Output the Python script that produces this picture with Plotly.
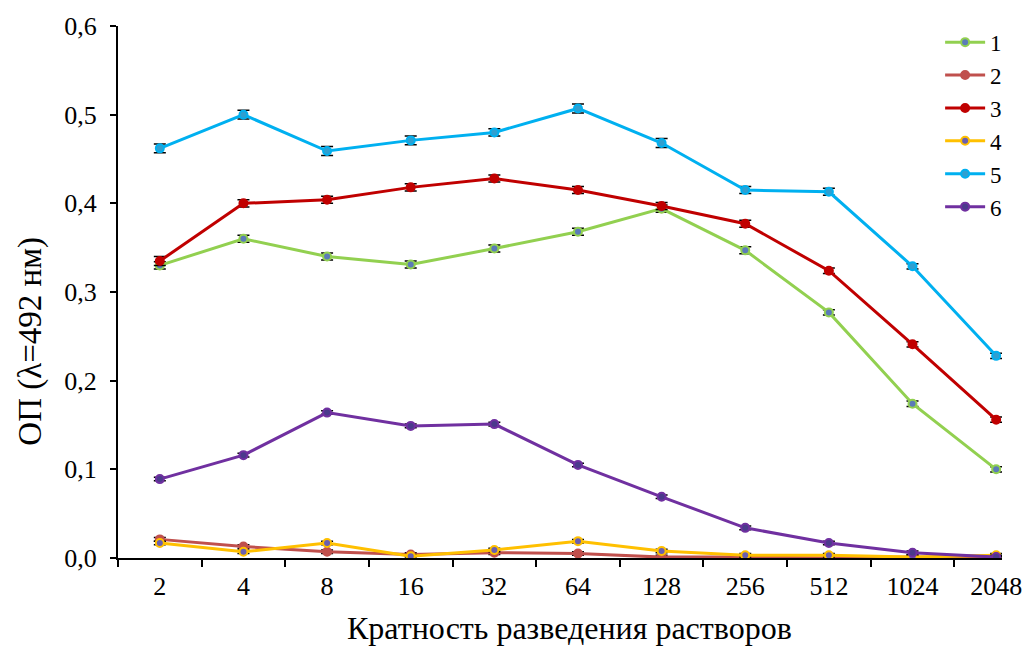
import plotly.graph_objects as go

# Dilution factors (x categories)
dilutions = ["2", "4", "8", "16", "32", "64", "128", "256", "512", "1024", "2048"]

# Optical density readings for each sample
od_1 = [0.330, 0.360, 0.340, 0.331, 0.349, 0.368, 0.394, 0.347, 0.277, 0.174, 0.100]
od_2 = [0.021, 0.013, 0.007, 0.004, 0.006, 0.005, 0.001, 0.001, 0.000, 0.001, 0.000]
od_3 = [0.335, 0.400, 0.404, 0.418, 0.428, 0.415, 0.397, 0.377, 0.324, 0.241, 0.156]
od_4 = [0.017, 0.007, 0.017, 0.002, 0.009, 0.019, 0.008, 0.003, 0.003, 0.001, 0.003]
od_5 = [0.462, 0.500, 0.459, 0.471, 0.480, 0.507, 0.468, 0.415, 0.413, 0.329, 0.228]
od_6 = [0.089, 0.116, 0.164, 0.149, 0.151, 0.105, 0.069, 0.034, 0.017, 0.006, 0.001]

# Standard deviations
sd_1 = [0.004, 0.004, 0.004, 0.004, 0.004, 0.004, 0.004, 0.004, 0.003, 0.003, 0.003]
sd_2 = [0.002] * 11
sd_3 = [0.005, 0.004, 0.004, 0.004, 0.004, 0.004, 0.004, 0.004, 0.003, 0.003, 0.003]
sd_4 = [0.002] * 11
sd_5 = [0.005, 0.005, 0.005, 0.005, 0.004, 0.005, 0.005, 0.004, 0.004, 0.003, 0.003]
sd_6 = [0.002] * 11

series_names = ["1", "2", "3", "4", "5", "6"]

x_title = "Кратность разведения растворов"
y_title = "ОП (λ=492 нм)"

series = [
    (od_1, sd_1, "#92d050", "#5b7bb8"),
    (od_2, sd_2, "#c0504d", "#c0504d"),
    (od_3, sd_3, "#c00000", "#c00000"),
    (od_4, sd_4, "#ffc000", "#6a5fb0"),
    (od_5, sd_5, "#00b0f0", "#2f9fd0"),
    (od_6, sd_6, "#7030a0", "#4b3a8c"),
]

FONT = "'Liberation Serif', 'DejaVu Serif', serif"

fig = go.Figure()
for name, (vals, sd, line_col, fill_col) in zip(series_names, series):
    fig.add_trace(go.Scatter(
        x=dilutions,
        y=vals,
        name=name,
        mode="lines+markers",
        line=dict(color=line_col, width=3),
        marker=dict(size=8, color=fill_col, line=dict(color=line_col, width=2)),
        error_y=dict(type="data", array=sd, visible=True, color="black",
                     thickness=1.5, width=6),
    ))

fig.update_layout(
    width=1034,
    height=646,
    margin=dict(l=118, r=30, t=23, b=88),
    paper_bgcolor="white",
    plot_bgcolor="white",
    separators=", ",
    font=dict(family=FONT, size=26, color="black"),
    showlegend=True,
    legend=dict(
        x=0.93, y=1.01, xanchor="left", yanchor="top",
        font=dict(family=FONT, size=23, color="black"),
        bgcolor="rgba(0,0,0,0)",
        tracegroupgap=0,
        itemwidth=40,
    ),
    annotations=[
        # axis titles placed as free text so they sit where the layout needs them
        dict(text=x_title, xref="paper", yref="paper", x=0.511, y=-0.131,
             xanchor="center", yanchor="middle", showarrow=False,
             font=dict(family=FONT, size=32, color="black")),
        dict(text=y_title, xref="paper", yref="paper", x=-0.099, y=0.4075,
             xanchor="center", yanchor="middle", showarrow=False, textangle=-90,
             font=dict(family=FONT, size=33, color="black")),
    ],
)

fig.update_xaxes(
    type="category",
    range=[-0.5, 10.07],
    tickson="boundaries",
    ticks="outside",
    ticklen=7,
    tickwidth=2,
    tickcolor="black",
    showline=True,
    linecolor="black",
    linewidth=2,
    showgrid=False,
    zeroline=False,
    ticklabelstandoff=4,
    tickfont=dict(family=FONT, size=26, color="black"),
)

fig.update_yaxes(
    range=[0, 0.6],
    tickvals=[0, 0.1, 0.2, 0.3, 0.4, 0.5, 0.6],
    tickformat=".1f",
    ticks="outside",
    ticklen=6,
    tickwidth=2,
    tickcolor="black",
    showline=True,
    linecolor="black",
    linewidth=2,
    showgrid=False,
    zeroline=False,
    ticklabelstandoff=8,
    tickfont=dict(family=FONT, size=26, color="black"),
)

fig.write_html("out.html")
